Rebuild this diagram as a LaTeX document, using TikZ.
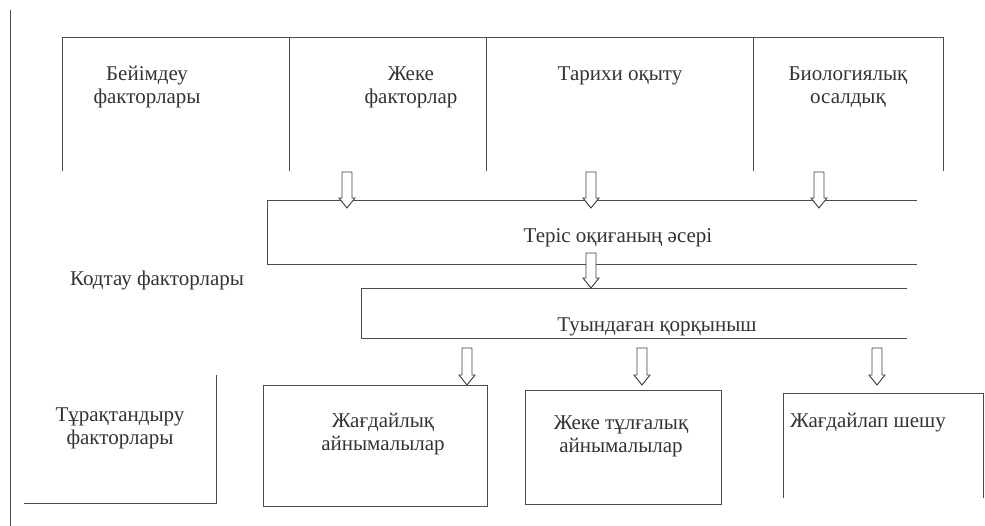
\documentclass[tikz,border=0pt]{standalone}
\usepackage{fontspec}
\setmainfont{Liberation Serif}
\usetikzlibrary{calc}
\begin{document}
\begin{tikzpicture}[x=1pt,y=-1pt,
  ln/.style={line width=1pt, draw=black!70},
  lbl/.style={font=\fontsize{21}{23}\selectfont, text=black!80, align=center, inner sep=0pt},
  blk/.style={line width=0.9pt, draw=black!75, fill=white,
    to path={let \p1=(\tikztostart), \p2=(\tikztotarget) in
      (\x1-5pt,\y1) -- (\x1+5pt,\y1) -- (\x1+5pt,\y2+10pt) -- (\x1+8pt,\y2+10pt)
      -- (\x1,\y2) -- (\x1-8pt,\y2+10pt) -- (\x1-5pt,\y2+10pt) -- cycle}}]
\useasboundingbox (0,0) rectangle (985,526);
% left margin line
\draw[ln] (10,10) -- (10,526);
% top row of cells
\draw[ln] (62,171) -- (62,38) -- (943,38) -- (943,171);
\draw[ln] (289,38) -- (289,171);
\draw[ln] (486,38) -- (486,171);
\draw[ln] (753,38) -- (753,171);
\node[lbl] (t1) at (147,87) {Бейімдеу\\факторлары};
\node[lbl] (t2) at (411,87) {Жеке\\факторлар};
\node[lbl] (t3) at (620,76) {Тарихи оқыту};
\node[lbl] (t4) at (848,87) {Биологиялық\\осалдық};
% middle boxes
\draw[ln] (917,201) -- (267,201) -- (267,265) -- (917,265);
\node[lbl] (t5) at (618,238) {Теріс оқиғаның әсері};
\draw[ln] (907,289) -- (361,289) -- (361,339) -- (907,339);
\node[lbl] (t6) at (657,327) {Туындаған қорқыныш};
\node[lbl] (t7) at (157,280) {Кодтау факторлары};
% bottom row
\draw[ln] (216,375) -- (216,503) -- (24,503);
\node[lbl] (t8) at (120,428) {Тұрақтандыру\\факторлары};
\draw[ln] (263,386) rectangle (487,506);
\node[lbl] (t9) at (383,434) {Жағдайлық\\айнымалылар};
\draw[ln] (525,390) rectangle (721,504);
\node[lbl] (t10) at (621,436) {Жеке тұлғалық\\айнымалылар};
\draw[ln] (783,498) -- (783,393) -- (983,393) -- (983,498);
\node[lbl] (t11) at (868,423) {Жағдайлап шешу};
% block arrows
\coordinate (a1s) at (347,172); \coordinate (a1e) at (347,208);
\coordinate (a2s) at (591,172); \coordinate (a2e) at (591,208);
\coordinate (a3s) at (819,172); \coordinate (a3e) at (819,208);
\coordinate (a4s) at (591,253); \coordinate (a4e) at (591,288);
\coordinate (a5s) at (467,348); \coordinate (a5e) at (467,385);
\coordinate (a6s) at (642,348); \coordinate (a6e) at (642,385);
\coordinate (a7s) at (877,348); \coordinate (a7e) at (877,385);
\foreach \i in {1,...,7} {\draw[blk] (a\i s) to (a\i e);}
\end{tikzpicture}
\end{document}
